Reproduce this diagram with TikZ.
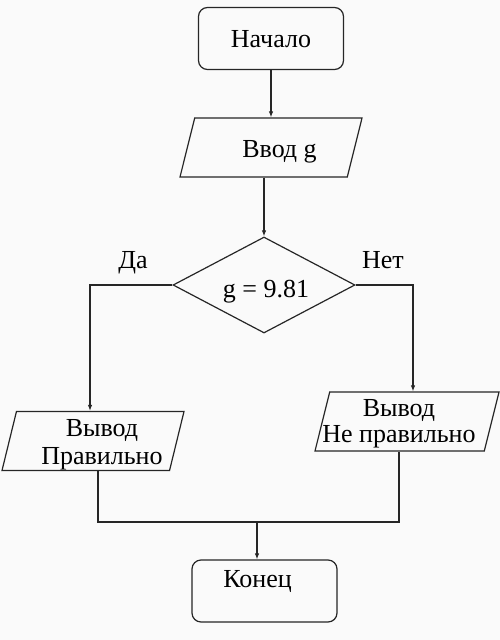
\documentclass[tikz,border=0pt]{standalone}
\usepackage{fontspec}
\setmainfont{Liberation Serif}
\newfontfamily\blockfont{Liberation Serif}
\usetikzlibrary{arrows.meta,positioning,calc,shapes.geometric}
% text placed off the shape centre: [half box height] dx, baseline below centre, text
\newcommand\celltext[4][0.5pt]{\hspace*{#2}\makebox[1pt]{\raisebox{-#3}[#1][#1]{#4}}\hspace*{-#2}}

\begin{document}
\begin{tikzpicture}[
  x=1pt,y=-1pt,
  every node/.style={font=\blockfont\fontsize{26}{28}\selectfont},
  line/.style={draw=black!85,line width=1.2pt},
  term/.style={line,rounded corners=9pt,minimum width=145pt,minimum height=62pt,inner sep=0pt},
  io/.style={line,trapezium,trapezium left angle=76,trapezium right angle=104,
             trapezium stretches body=true,minimum width=182pt,minimum height=59pt,inner sep=0pt},
  cond/.style={line,diamond,minimum width=182pt,minimum height=96pt,inner sep=0pt},
  arr/.style={line,-{Latex[length=6pt,width=4.5pt]}}
]
\path[fill={rgb,255:red,250;green,250;blue,250}] (0,0) rectangle (500,640);
\useasboundingbox (0,0) rectangle (500,640);

\node[term] (start) at (271,38.5) {\celltext{0pt}{9pt}{Начало}};
\node[io] (in) at (271,147.5) {\celltext[29.5pt]{8.5pt}{10pt}{Ввод g}};
\node[cond] (dec) at (264,285) {\celltext{2pt}{12.5pt}{g = 9.81}};
\node[anchor=base] (yes) at (133,268) {Да};
\node[anchor=base] (no) at (383,268) {Нет};
\node[io] (lout) at (93,441)
  {\celltext[29pt]{9pt}{-4.5pt}{\begin{tabular}[t]{@{}c@{}}Вывод\\Правильно\end{tabular}}};
\node[io,minimum width=184pt] (rout) at (407,421.5)
  {\celltext[29.5pt]{-8pt}{-5pt}{\begin{tabular}[t]{@{}c@{}}Вывод\\[-2pt]Не правильно\end{tabular}}};
\node[term] (end) at (264.5,591) {\celltext{-7pt}{-3.5pt}{Конец}};
\coordinate (join) at (257,522);

\draw[arr] (start) -- (in);
\draw[arr] (in.south -| dec.north) -- (dec.north);
\draw[arr] (dec.west) -| ([xshift=-3pt]lout.north);
\draw[arr] (dec.east) -| ([xshift=6pt]rout.north);
\draw[line] ([xshift=5pt]lout.south) |- (join) -| ([xshift=-8pt]rout.south);
\draw[arr] (join) -- (join |- end.north);
\end{tikzpicture}
\end{document}
